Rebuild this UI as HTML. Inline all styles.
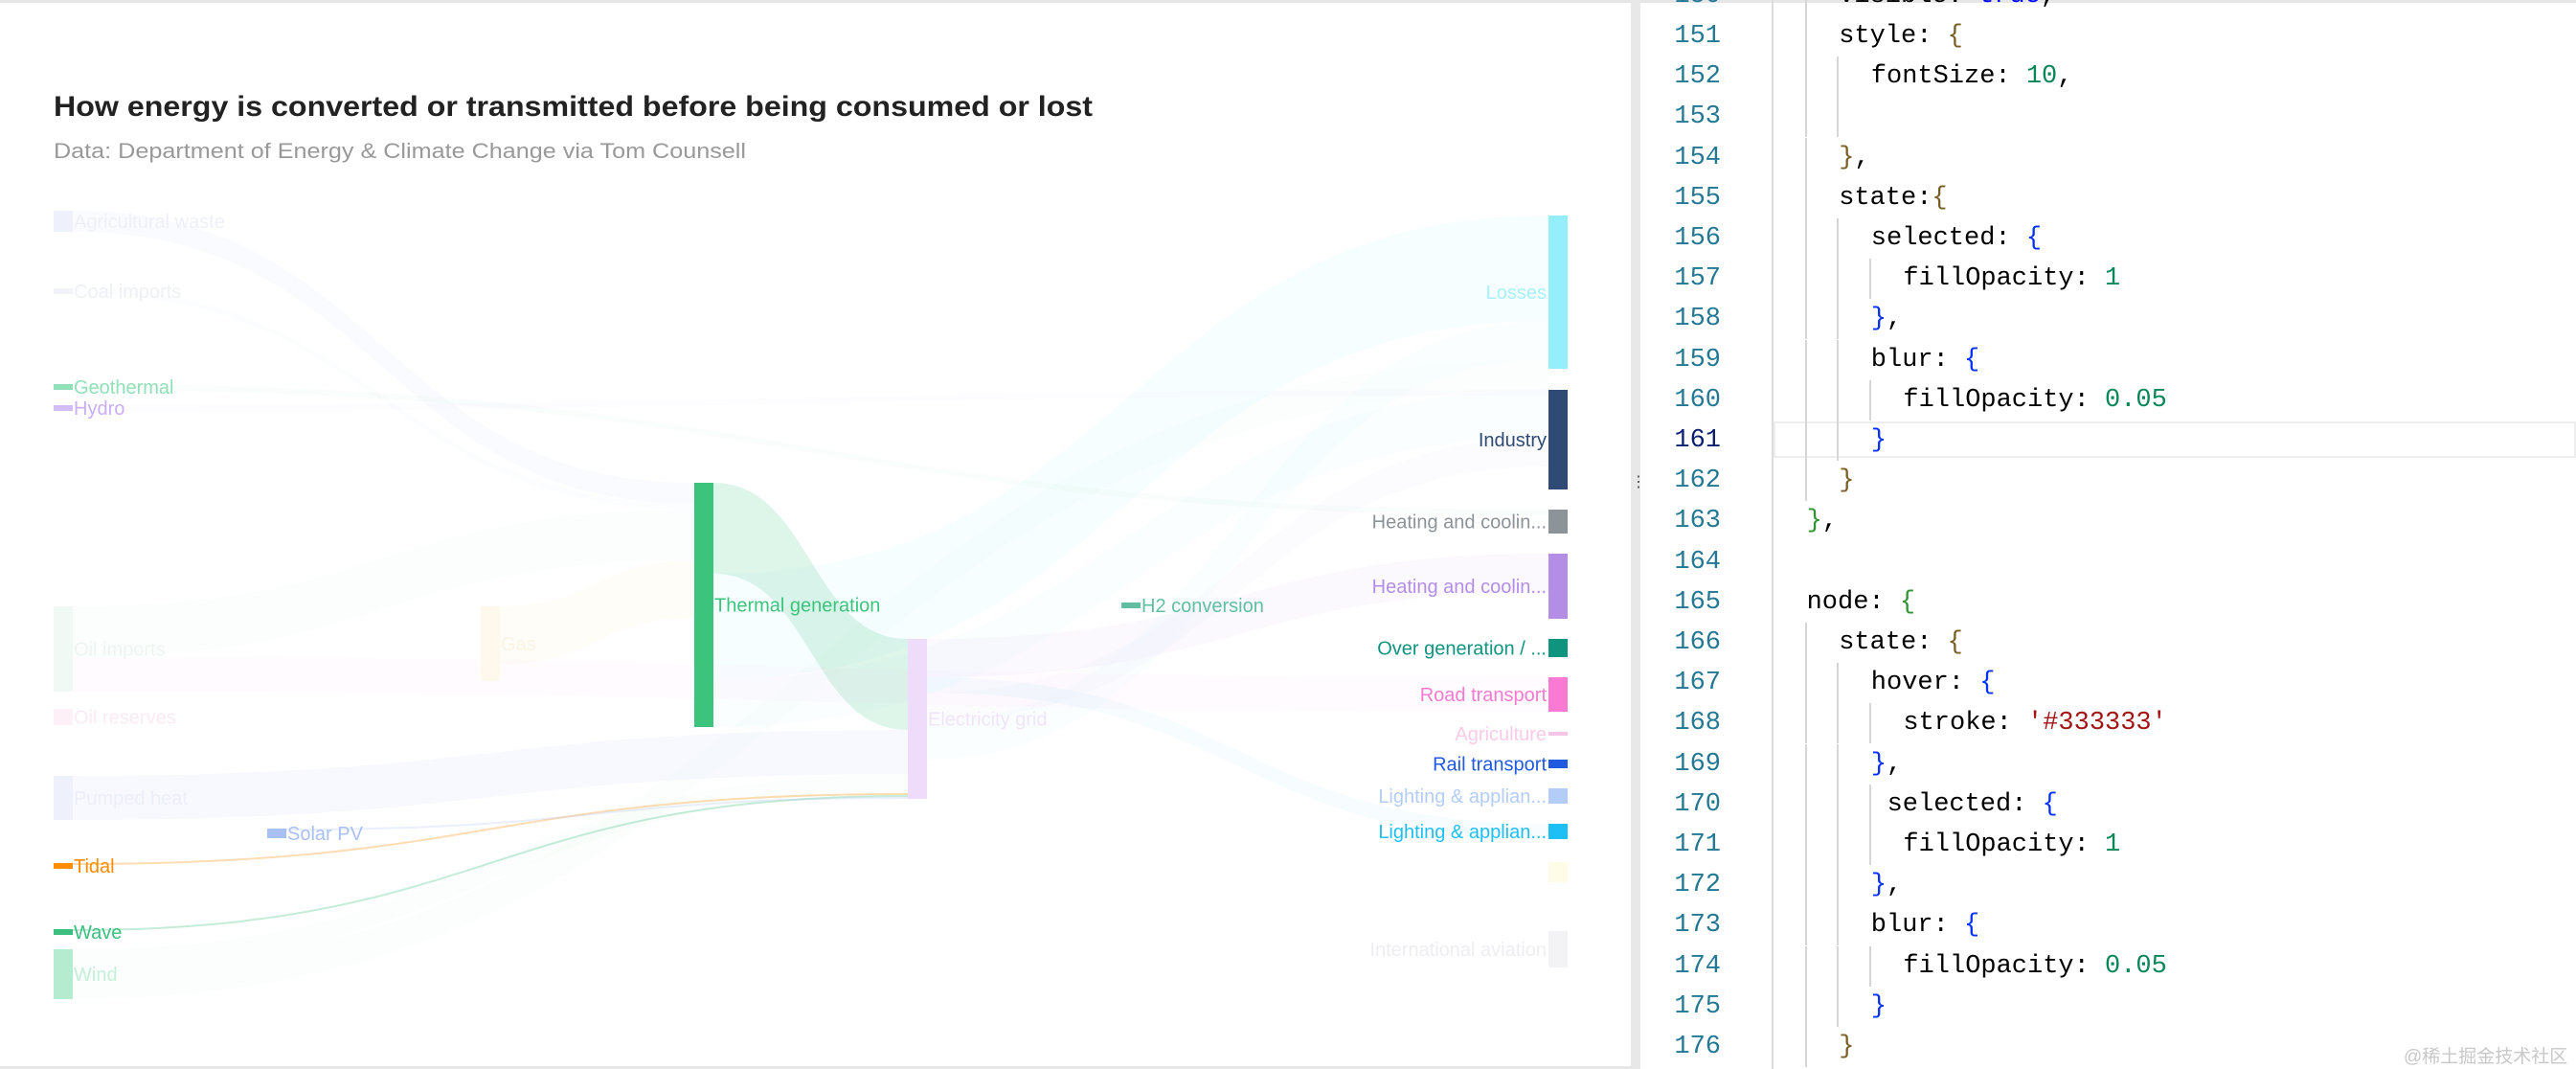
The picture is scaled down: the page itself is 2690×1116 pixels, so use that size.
<!DOCTYPE html>
<html><head><meta charset="utf-8"><style>
html,body{margin:0;padding:0;background:#fff;}
body{width:2690px;height:1116px;position:relative;overflow:hidden;font-family:"Liberation Sans",sans-serif;}
#code{position:absolute;left:1713px;top:0;width:977px;height:1116px;background:#fff;}
.ln{position:absolute;left:1735px;width:62px;text-align:right;color:#237893;font-family:"Liberation Mono",monospace;font-size:27px;line-height:42px;}
.cl{position:absolute;white-space:pre;line-height:42px;color:#000;font-family:"Liberation Mono",monospace;font-size:27px;}
.k{color:#000}.b1{color:#795e26}.b2{color:#0431fa}.b3{color:#319331}.n{color:#098658}.s{color:#a31515}.bl{color:#0000ff}
.g{position:absolute;width:2px;background:#d6d6d6;}
</style></head><body>
<div style="position:absolute;left:0;top:0;width:1703px;height:1116px;border-top:3px solid #e6e6e6;border-bottom:3px solid #e6e6e6;box-sizing:border-box;"></div>
<svg id="chart" width="1703" height="1116" style="position:absolute;left:0;top:0">
<text x="56" y="121" font-size="30" font-weight="bold" fill="#222" textLength="1085" lengthAdjust="spacingAndGlyphs">How energy is converted or transmitted before being consumed or lost</text>
<text x="56" y="165" font-size="22" fill="#999" textLength="723" lengthAdjust="spacingAndGlyphs">Data: Department of Energy &amp; Climate Change via Tom Counsell</text>
<g id="links"></g><g id="nodes"></g><g id="labels"></g>
</svg>
<div style="position:absolute;left:1703px;top:0;width:10px;height:1116px;background:#e8e8e8;"></div>
<div style="position:absolute;left:1703px;top:500px;width:10px;height:26px;color:#444;font-size:16px;line-height:8px;text-align:center;">⋮⋮</div>
<div id="code" style="border-top:3px solid #e6e6e6;box-sizing:border-box;"></div>
<script>
// ---------- Sankey data ----------
const nodeNames=["Agricultural waste","Coal imports","Geothermal","Hydro","Oil imports","Oil reserves","Pumped heat","Tidal","Wave","Wind","Solar PV","Gas","Thermal generation","Electricity grid","H2 conversion","Losses","Industry","Heating and coolin...","Heating and coolin... ","Over generation / ...","Road transport","Agriculture","Rail transport","Lighting & applian...","Lighting & applian... ","Other","International aviation"];
const nodeCols=[0,0,0,0,0,0,0,0,0,0,1,2,3,4,5,7,7,7,7,7,7,7,7,7,7,7,7];
const nodeTops=[0,81,181,203,413,520,590,681,750,771,645,413,284,447,409,5,187,312,358,447,487,544,573,603,640,680,752];
const nodeValues=[22,6,6,6,89,17,46,6,6,52,10,78,255,167,6,160,104,25,68,19,36,4,9,16,16,21,38];
const nodeColors=["#eef1fb","#f1f3f8","#91e0b8","#d4bdf6","#f1f9f5","#fdf0f7","#eef0fb","#ff8c00","#3bbf7f","#b5ecd0","#a9c0f5","#fff8ec","#3cc47c","#eedcfa","#5fbfa0","#94eefc","#2f4a74","#8c9399","#b48de6","#0f9480","#fa7ad3","#f7c6e6","#1f5ae0","#b3cdf8","#1ebff5","#fefbe6","#f3f3f5"];
const labelColors=["#eef0f7","#eef0f5","#91e0b8","#c9aff2","#edf5f1","#fbeaf3","#eceff9","#ff8c00","#3bbf7f","#c4efd8","#a9c0f5","#fbf3e3","#3cc47c","#f0e4fa","#5fbfa0","#a8f0fa","#2f4a74","#8c9399","#b48de6","#0f9480","#f57ad0","#f8cbe6","#1f5ae0","#b3cdf8","#1ebff5","#ffffff","#eeeef2"];
const linkSrc=[12,12,12,6,9,7,8,10,0,1,4,11,4,13,13,13,13,9,2,3];
const linkTgt=[13,15,16,13,13,13,13,13,12,12,12,12,20,18,24,16,15,15,17,15];
const linkVal=[95,110,50,46,20,2,2,2,22,6,53,60,36,40,16,30,40,32,6,6];
const linkColors=["#3cc47c","#94eefc","#94eefc","#a9b8f0","#b5ecd0","#ff8c00","#3bbf7f","#a9c0f5","#a9b8f0","#c8d0f0","#b5ecd0","#ffd27a","#fa7ad3","#b48de6","#1ebff5","#a9b8f0","#94eefc","#b5ecd0","#91e0b8","#d4bdf6"];
const linkOpac=[0.17,0.08,0.05,0.08,0.06,0.3,0.3,0.25,0.06,0.05,0.04,0.05,0.03,0.05,0.04,0.04,0.04,0.04,0.05,0.05];

const plotTop=220, unit=1, nodeW=20;
const colX=c=>56+c*223;
const yPos=v=>plotTop+v*unit;
const NS="http://www.w3.org/2000/svg";
const outOff=nodeNames.map(()=>0), inOff=nodeNames.map(()=>0);
const gL=document.getElementById('links');
for(let i=0;i<linkSrc.length;i++){
  const s=linkSrc[i],t=linkTgt[i],h=linkVal[i]*unit;
  const x0=colX(nodeCols[s])+nodeW, x1=colX(nodeCols[t]);
  const y0=yPos(nodeTops[s]+outOff[s]), y1=yPos(nodeTops[t]+inOff[t]);
  outOff[s]+=linkVal[i]; inOff[t]+=linkVal[i];
  const xm=(x0+x1)/2;
  const p=document.createElementNS(NS,'path');
  p.setAttribute('d',`M${x0},${y0}C${xm},${y0} ${xm},${y1} ${x1},${y1}L${x1},${y1+h}C${xm},${y1+h} ${xm},${y0+h} ${x0},${y0+h}Z`);
  p.setAttribute('fill',linkColors[i]);p.setAttribute('fill-opacity',linkOpac[i]);
  
  
  gL.appendChild(p);
}
const gN=document.getElementById('nodes'), gT=document.getElementById('labels');
for(let i=0;i<nodeNames.length;i++){
  const x=colX(nodeCols[i]), y=yPos(nodeTops[i]), h=nodeValues[i]*unit;
  const r=document.createElementNS(NS,'rect');
  r.setAttribute('x',x);r.setAttribute('y',y);r.setAttribute('width',nodeW);r.setAttribute('height',h);
  r.setAttribute('fill',nodeColors[i]);
  const slug=nodeNames[i].trim().toLowerCase().replace(/[^a-z0-9]+/g,'-').replace(/-+$/,'');
  
  
  gN.appendChild(r);
  const t=document.createElementNS(NS,'text');
  const right=nodeCols[i]===7;
  t.setAttribute('x',right?x-2:x+nodeW+1);
  t.setAttribute('y',y+h/2+7);
  t.setAttribute('font-size','20');
  t.setAttribute('text-anchor',right?'end':'start');
  t.setAttribute('fill',labelColors[i]);
  t.textContent=nodeNames[i].trim();
  
  
  gT.appendChild(t);
}

// ---------- code editor ----------
const codeLines=[
 [150,2,'<span class="k">visible: </span><span class="bl">true</span>,'],
 [151,2,'style: <span class="b1">{</span>'],
 [152,3,'fontSize: <span class="n">10</span>,'],
 [153,3,''],
 [154,2,'<span class="b1">}</span>,'],
 [155,2,'state:<span class="b1">{</span>'],
 [156,3,'selected: <span class="b2">{</span>'],
 [157,4,'fillOpacity: <span class="n">1</span>'],
 [158,3,'<span class="b2">}</span>,'],
 [159,3,'blur: <span class="b2">{</span>'],
 [160,4,'fillOpacity: <span class="n">0.05</span>'],
 [161,3,'<span class="b2">}</span>'],
 [162,2,'<span class="b1">}</span>'],
 [163,1,'<span class="b3">}</span>,'],
 [164,1,''],
 [165,1,'node: <span class="b3">{</span>'],
 [166,2,'state: <span class="b1">{</span>'],
 [167,3,'hover: <span class="b2">{</span>'],
 [168,4,'stroke: <span class="s">\'#333333\'</span>'],
 [169,3,'<span class="b2">}</span>,'],
 [170,3.5,'selected: <span class="b2">{</span>'],
 [171,4,'fillOpacity: <span class="n">1</span>'],
 [172,3,'<span class="b2">}</span>,'],
 [173,3,'blur: <span class="b2">{</span>'],
 [174,4,'fillOpacity: <span class="n">0.05</span>'],
 [175,3,'<span class="b2">}</span>'],
 [176,2,'<span class="b1">}</span>']
];
const guideLevels={150:[1],151:[1],152:[1,2],153:[1,2],154:[1],155:[1],156:[1,2],157:[1,2,3],158:[1,2],159:[1,2],160:[1,2,3],161:[1,2],162:[1],166:[1],167:[1,2],168:[1,2,3],169:[1,2],170:[1,2,3],171:[1,2,3],172:[1,2],173:[1,2],174:[1,2,3],175:[1,2],176:[1]};
const body=document.body;
const hl=document.createElement('div');


hl.style.cssText='position:absolute;left:1852px;top:440px;width:838px;height:38px;border:2px solid #eeeeee;box-sizing:border-box;';
body.appendChild(hl);
const gut=document.createElement('div');


gut.style.cssText='position:absolute;left:1850px;top:0;width:2px;height:1116px;background:#dcdcdc;';
body.appendChild(gut);
codeLines.forEach(([num,lvl,html])=>{
  const y=38+(num-151)*42.2-21;
  const ln=document.createElement('div');
  ln.className='ln';ln.style.top=y+'px';ln.textContent=num;
  if(num===161)ln.style.color='#0b216f';
  
  
  body.appendChild(ln);
  (guideLevels[num]||[]).forEach(g=>{
    const d=document.createElement('div');d.className='g';
    d.style.left=(1851+g*33.6)+'px';d.style.top=y+'px';d.style.height='42px';
    
    
    body.appendChild(d);
  });
  const cl=document.createElement('div');
  cl.className='cl';cl.style.left=(1851+lvl*33.6+2)+'px';cl.style.top=y+'px';
  cl.innerHTML=html;
  
  
  body.appendChild(cl);
});
const wm=document.createElement('div');


wm.style.cssText='position:absolute;left:2510px;top:1088px;font-size:19px;white-space:nowrap;color:#c8c8c8;font-family:"Liberation Sans","Noto Sans CJK SC",sans-serif;';
wm.textContent='@稀土掘金技术社区';
body.appendChild(wm);
</script>
</body></html>
